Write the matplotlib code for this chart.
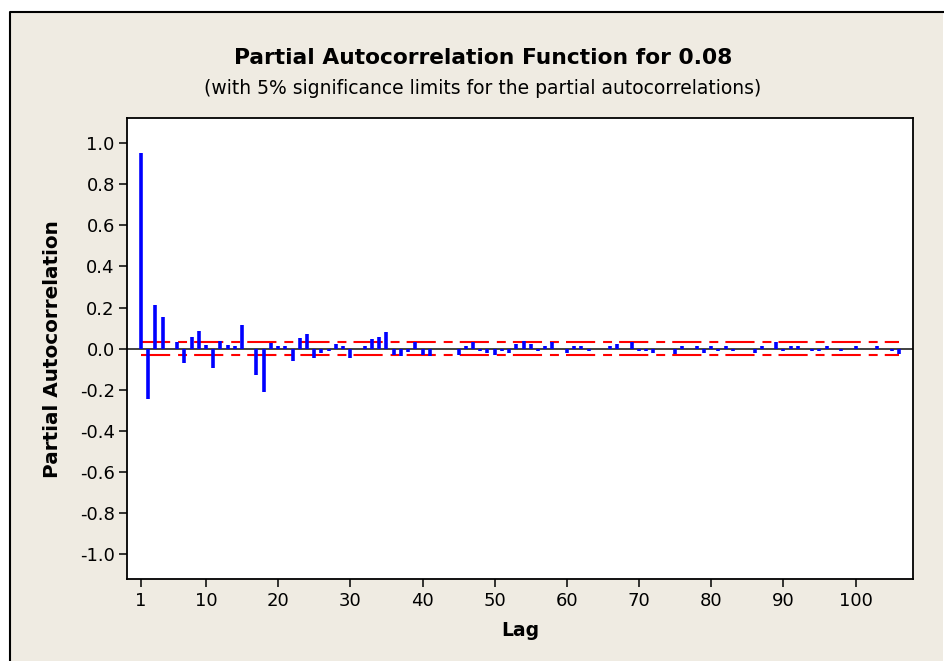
#!/usr/bin/env python3
"""
PACF grafigi - Minitab tarzinda yeniden cizim
"""

import matplotlib
matplotlib.use("Agg")
import matplotlib.pyplot as plt
from matplotlib.patches import Rectangle
from matplotlib.lines import Line2D
from matplotlib.ticker import FormatStrFormatter

plt.rcParams['axes.unicode_minus'] = False

# Gecikmeler ve kismi otokorelasyon degerleri
lags = list(range(1, 107))
pacf = [
    0.950, -0.244, 0.214, 0.154, 0.000, 0.031, -0.069, 0.055, 0.087, 0.019,
    -0.096, 0.037, 0.019, 0.011, 0.113, 0.000, -0.130, -0.212, 0.028, 0.012,
    0.012, -0.061, 0.054, 0.070, -0.045, -0.021, -0.013, 0.021, 0.014, -0.045,
    0.000, 0.013, 0.047, 0.055, 0.080, -0.029, -0.037, -0.014, 0.030, -0.029,
    -0.037, 0.000, 0.000, 0.000, -0.029, 0.014, 0.030, -0.010, -0.020, -0.029,
    -0.010, -0.020, 0.023, 0.038, 0.023, -0.013, 0.015, 0.030, 0.000, -0.020,
    0.015, 0.015, -0.010, 0.000, 0.000, 0.015, 0.022, 0.000, 0.030, -0.010,
    -0.010, -0.020, 0.000, 0.000, -0.028, 0.015, 0.000, 0.015, -0.020, 0.015,
    -0.010, 0.015, -0.010, 0.000, 0.000, -0.020, 0.015, 0.000, 0.030, -0.010,
    0.012, 0.012, 0.000, -0.010, -0.010, 0.012, 0.000, -0.010, 0.000, 0.012,
    0.000, 0.000, 0.012, 0.000, -0.010, -0.025,
]
sig_limit = 0.033  # %5 anlamlilik siniri
x_ticks = [1, 10, 20, 30, 40, 50, 60, 70, 80, 90, 100]
y_ticks = [-1.0, -0.8, -0.6, -0.4, -0.2, 0.0, 0.2, 0.4, 0.6, 0.8, 1.0]

W, H = 944, 661
BEIGE = '#EFEBE2'

fig = plt.figure(figsize=(W / 100, H / 100), dpi=100, facecolor='white')

# cerceve (Minitab grafik penceresi)
fig.patches.append(Rectangle((10 / W, 0), (943 - 10) / W, (H - 12) / H,
                             transform=fig.transFigure, facecolor=BEIGE,
                             edgecolor='none', zorder=-5))
fig.lines.append(Line2D([10 / W, 10 / W, 943 / W], [0, 1 - 12 / H, 1 - 12 / H],
                        transform=fig.transFigure, color='black', lw=1.5,
                        zorder=-4))

ax = fig.add_axes([127.3 / W, 1 - 579 / H, (913.3 - 127.3) / W, (579 - 118.3) / H])
ax.set_facecolor('white')

ax.axhline(0, color='#333333', lw=1.3, zorder=2)
lim_style = dict(color='red', lw=1.5, dashes=(14.0, 3.8, 4.3, 3.4), zorder=1)
ax.plot([1, 106], [sig_limit, sig_limit], **lim_style)
ax.plot([1, 106], [-sig_limit, -sig_limit], **lim_style)
ax.vlines(lags, 0, pacf, colors='#0000FF', lw=2.6, zorder=3)

ax.set_xlim(-0.9, 108)
ax.set_ylim(-1.12, 1.12)
ax.set_xticks(x_ticks)
ax.set_yticks(y_ticks)
ax.yaxis.set_major_formatter(FormatStrFormatter('%.1f'))
ax.tick_params(direction='out', length=6, width=1.1, labelsize=13, pad=3,
               colors='black')
for sp in ax.spines.values():
    sp.set_linewidth(1.3)
    sp.set_color('black')

ax.set_xlabel('Lag', fontsize=13.5, fontweight='bold')
ax.set_ylabel('Partial Autocorrelation', fontsize=14.4, fontweight='bold')
ax.xaxis.set_label_coords(0.5, -0.091)
ax.yaxis.set_label_coords(-0.083, 0.5)

fig.text(483 / W, 1 - 58 / H, 'Partial Autocorrelation Function for 0.08',
         ha='center', va='center', fontsize=15.7, fontweight='bold')
fig.text(483 / W, 1 - 88 / H,
         '(with 5% significance limits for the partial autocorrelations)',
         ha='center', va='center', fontsize=13.5)

fig.savefig('out.png', dpi=100, facecolor=fig.get_facecolor())
